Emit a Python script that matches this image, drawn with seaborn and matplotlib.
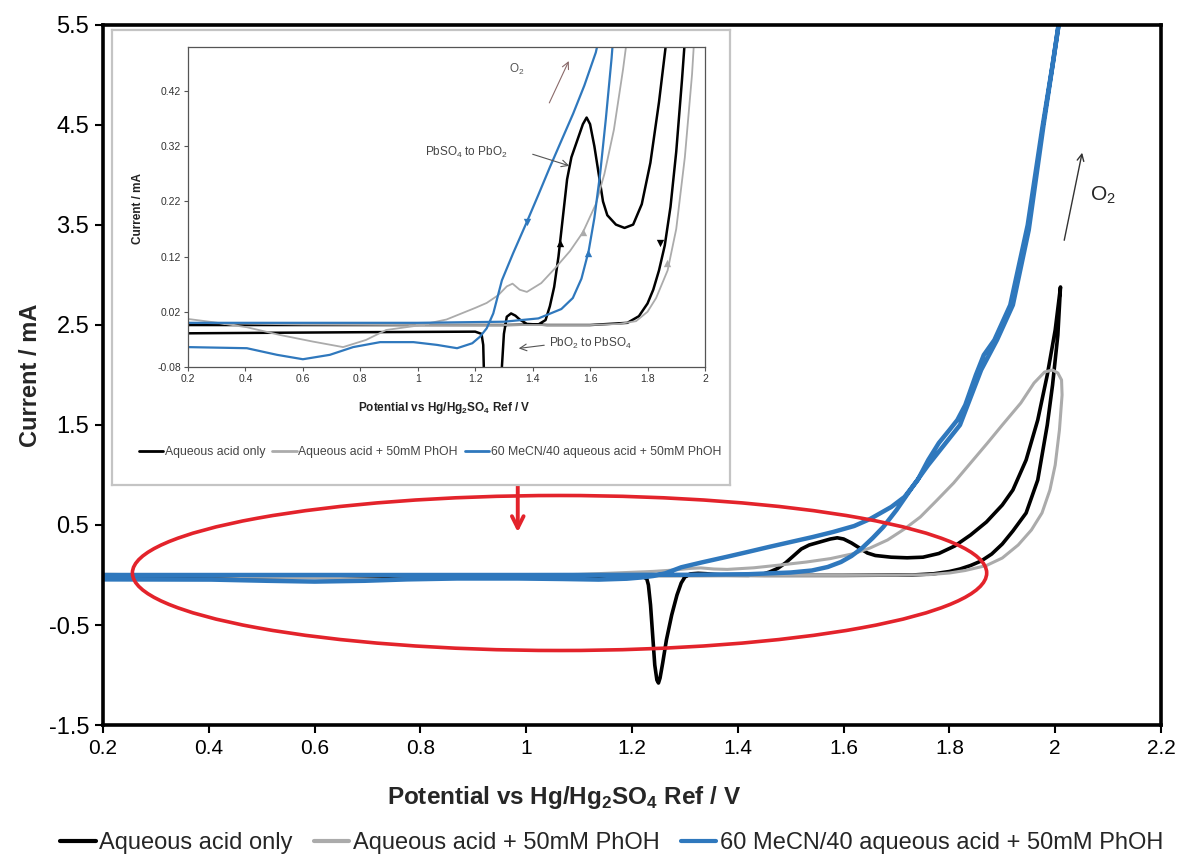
import pandas as pd
import seaborn as sns
import matplotlib.pyplot as plt
from matplotlib.patches import Ellipse
from matplotlib.lines import Line2D

# ---- values: potential (V) and current (mA) ----
# aqueous acid only
acid_fwd_v = [0.2, 0.6, 1.0, 1.3, 1.42, 1.445, 1.46, 1.475, 1.49, 1.505, 1.52, 1.535, 1.555,
              1.575, 1.588, 1.60, 1.615, 1.63, 1.645, 1.66, 1.69, 1.72, 1.75, 1.78, 1.81, 1.84,
              1.87, 1.90, 1.92, 1.945, 1.967, 1.985, 2.0, 2.01]
acid_fwd_i = [-0.004, -0.004, -0.004, -0.004, -0.003, 0.005, 0.03, 0.065, 0.12, 0.19, 0.26, 0.30,
              0.33, 0.36, 0.372, 0.36, 0.32, 0.27, 0.22, 0.195, 0.178, 0.172, 0.178, 0.215, 0.29,
              0.40, 0.53, 0.70, 0.85, 1.15, 1.55, 2.0, 2.45, 2.88]
acid_rev_v = [2.01, 2.005, 1.995, 1.985, 1.967, 1.945, 1.92, 1.90, 1.88, 1.86, 1.84, 1.82, 1.80,
              1.77, 1.73, 1.6, 1.45, 1.38, 1.355, 1.34, 1.325, 1.31, 1.30, 1.293, 1.285, 1.275,
              1.265, 1.258, 1.253, 1.25, 1.247, 1.243, 1.239, 1.235, 1.231, 1.228, 1.222, 1.2,
              0.8, 0.2]
acid_rev_i = [2.88, 2.4, 1.9, 1.5, 0.95, 0.62, 0.44, 0.31, 0.21, 0.14, 0.095, 0.06, 0.035,
              0.012, 0.0, -0.004, -0.004, -0.002, 0.006, 0.013, 0.017, 0.011, -0.02, -0.08, -0.2,
              -0.4, -0.65, -0.88, -1.03, -1.08, -1.05, -0.9, -0.6, -0.3, -0.1, -0.04, -0.02,
              -0.016, -0.017, -0.019]

# aqueous acid + 50mM PhOH
phoh_fwd_v = [0.2, 0.6, 1.0, 1.4, 1.6, 1.70, 1.76, 1.80, 1.83, 1.87, 1.90, 1.93, 1.955, 1.975,
              1.99, 2.0, 2.008, 2.013, 2.012, 2.005]
phoh_fwd_i = [0.0, -0.003, -0.004, -0.004, -0.004, -0.002, 0.003, 0.02, 0.045, 0.095, 0.17,
              0.30, 0.45, 0.62, 0.85, 1.1, 1.45, 1.8, 1.95, 2.02]
phoh_rev_v = [1.995, 1.98, 1.96, 1.935, 1.90, 1.872, 1.84, 1.808, 1.775, 1.745, 1.715, 1.683,
              1.65, 1.62, 1.575, 1.53, 1.48, 1.43, 1.38, 1.355, 1.33, 1.31, 1.28, 1.24, 1.2,
              1.1, 1.0, 0.89, 0.82, 0.74, 0.635, 0.52, 0.405, 0.29, 0.2]
phoh_rev_i = [2.05, 2.03, 1.92, 1.72, 1.5, 1.32, 1.12, 0.92, 0.74, 0.58, 0.46, 0.35, 0.27,
              0.215, 0.164, 0.13, 0.10, 0.072, 0.056, 0.06, 0.071, 0.066, 0.05, 0.036, 0.027,
              0.006, -0.005, -0.013, -0.031, -0.044, -0.034, -0.022, -0.008, 0.001, 0.007]

# 60 MeCN/40 aqueous acid + 50mM PhOH
mecn_fwd_v = [0.2, 0.6, 1.0, 1.3, 1.42, 1.5, 1.54, 1.57, 1.595, 1.615, 1.635, 1.655, 1.675,
              1.70, 1.73, 1.76, 1.79, 1.82, 1.86, 1.89, 1.92, 1.95, 1.978, 1.998, 2.012]
mecn_fwd_i = [0.0, 0.0, 0.0, 0.002, 0.008, 0.025, 0.045, 0.08, 0.13, 0.19, 0.27, 0.37, 0.48,
              0.65, 0.88, 1.10, 1.30, 1.50, 2.05, 2.35, 2.7, 3.45, 4.5, 5.2, 5.7]
mecn_rev_v = [2.012, 1.995, 1.975, 1.948, 1.915, 1.885, 1.865, 1.85, 1.83, 1.815, 1.80, 1.78,
              1.76, 1.74, 1.715, 1.69, 1.65, 1.62, 1.58, 1.541, 1.50, 1.46, 1.42, 1.38, 1.332,
              1.293, 1.263, 1.24, 1.217, 1.19, 1.137, 1.067, 0.985, 0.869, 0.775, 0.694, 0.6,
              0.51, 0.405, 0.2]
mecn_rev_i = [5.7, 5.1, 4.45, 3.5, 2.7, 2.35, 2.2, 2.0, 1.7, 1.55, 1.45, 1.32, 1.15, 0.95,
              0.78, 0.68, 0.56, 0.49, 0.43, 0.379, 0.33, 0.282, 0.232, 0.183, 0.126, 0.077,
              0.017, -0.01, -0.025, -0.037, -0.046, -0.04, -0.035, -0.035, -0.044, -0.058,
              -0.066, -0.058, -0.046, -0.044]

series = ["Aqueous acid only", "Aqueous acid + 50mM PhOH",
          "60 MeCN/40 aqueous acid + 50mM PhOH"]
colours = ["#000000", "#ababab", "#2f78bd"]

# direction marks on the inset curves
mark_v = [1.495, 1.843, 1.575, 1.868, 1.38, 1.593]
mark_i = [0.144, 0.144, 0.164, 0.108, 0.183, 0.126]
mark_series = [0, 0, 1, 1, 2, 2]
mark_shape = ["^", "v", "^", "^", "v", "^"]

frames = []
for name, fv, fi, rv, ri in [(series[0], acid_fwd_v, acid_fwd_i, acid_rev_v, acid_rev_i),
                             (series[1], phoh_fwd_v, phoh_fwd_i, phoh_rev_v, phoh_rev_i),
                             (series[2], mecn_fwd_v, mecn_fwd_i, mecn_rev_v, mecn_rev_i)]:
    frames.append(pd.DataFrame({"potential": fv + rv, "current": fi + ri, "series": name}))
df = pd.concat(frames, ignore_index=True)

sns.set_theme(style="ticks")
plt.rcParams['font.family'] = ['Liberation Sans', 'DejaVu Sans']
plt.rcParams['mathtext.fontset'] = 'custom'
plt.rcParams['mathtext.rm'] = 'Liberation Sans'
plt.rcParams['mathtext.bf'] = 'Liberation Sans:bold'

fig = plt.figure(figsize=(11.83, 8.58), dpi=100)
ax = fig.add_axes([0.0871, 0.155, 0.8943, 0.8159])
box = fig.add_axes([0.0947, 0.4347, 0.5224, 0.5306], zorder=3)
ins = fig.add_axes([0.1589, 0.5723, 0.4370, 0.3730], zorder=4)

# ---- main plot ----
main_lw = [2.6, 2.2, 3.2]
for name, c, lw in zip(series, colours, main_lw):
    sns.lineplot(data=df[df.series == name], x="potential", y="current", sort=False,
                 estimator=None, color=c, lw=lw, ax=ax, legend=False)

ax.set_xlim(0.2, 2.2)
ax.set_ylim(-1.5, 5.5)
xt = [0.2, 0.4, 0.6, 0.8, 1.0, 1.2, 1.4, 1.6, 1.8, 2.0, 2.2]
ax.set_xticks(xt)
ax.set_xticklabels([f"{v:g}" for v in xt], fontsize=15)
yt = [-1.5, -0.5, 0.5, 1.5, 2.5, 3.5, 4.5, 5.5]
ax.set_yticks(yt)
ax.set_yticklabels([f"{v:.1f}" for v in yt], fontsize=17)
ax.tick_params(direction="out", length=6, width=1.5, colors="black", pad=4)
for s in ax.spines.values():
    s.set_visible(True)
    s.set_linewidth(2.6)
    s.set_color("black")
ax.set_xlabel("")
ax.set_ylabel("")

fig.text(0.477, 0.071, r"Potential vs Hg/Hg$_\mathbf{2}$SO$_\mathbf{4}$ Ref / V",
         fontsize=17.5, fontweight="bold", ha="center", va="center")
fig.text(0.026, 0.563, "Current / mA", fontsize=17, fontweight="bold",
         rotation=90, ha="center", va="center")

ax.add_patch(Ellipse((1.063, 0.02), 1.615, 1.55, fill=False, edgecolor="#e3232b", lw=2.6,
                     zorder=5))
ax.annotate("", xy=(0.984, 0.40), xytext=(0.984, 0.92),
            arrowprops=dict(arrowstyle="->,head_length=0.7,head_width=0.35",
                            color="#e3232b", lw=2.8), zorder=6)
ax.annotate("", xy=(2.052, 4.25), xytext=(2.016, 3.32),
            arrowprops=dict(arrowstyle="->", color="#333333", lw=1.0))
ax.text(2.09, 3.8, r"O$_2$", fontsize=15, ha="center", va="center")

handles = [Line2D([], [], color=c, lw=3) for c in colours]
fig.legend(handles, series, loc="center", bbox_to_anchor=(0.517, 0.0175), ncol=3,
           fontsize=17, frameon=False, handlelength=1.5, handletextpad=0.15,
           columnspacing=0.9)

# ---- inset ----
box.set_xticks([])
box.set_yticks([])
box.set_facecolor("white")
for s in box.spines.values():
    s.set_visible(True)
    s.set_color("#c4c4c4")
    s.set_linewidth(1.6)

ins_lw = [1.8, 1.3, 1.6]
for name, c, lw in zip(series, colours, ins_lw):
    sns.lineplot(data=df[df.series == name], x="potential", y="current", sort=False,
                 estimator=None, color=c, lw=lw, ax=ins, legend=False)
for v, i, k, m in zip(mark_v, mark_i, mark_series, mark_shape):
    ins.scatter([v], [i], marker=m, s=28, color=colours[k], zorder=5, linewidths=0)

ins.set_xlim(0.2, 2.0)
ins.set_ylim(-0.08, 0.5)
ixt = [0.2, 0.4, 0.6, 0.8, 1.0, 1.2, 1.4, 1.6, 1.8, 2.0]
ins.set_xticks(ixt)
ins.set_xticklabels([f"{v:g}" for v in ixt], fontsize=7.5, color="#333333")
iyt = [-0.08, 0.02, 0.12, 0.22, 0.32, 0.42]
ins.set_yticks(iyt)
ins.set_yticklabels([f"{v:.2f}" for v in iyt], fontsize=7.5, color="#333333")
ins.tick_params(direction="out", length=3, width=0.8, colors="#555555", pad=2)
ins.tick_params(labelcolor="#333333")
for s in ins.spines.values():
    s.set_visible(True)
    s.set_color("#555555")
    s.set_linewidth(0.9)
ins.set_xlabel("")
ins.set_ylabel("")
fig.text(0.376, 0.5245, r"Potential vs Hg/Hg$_\mathbf{2}$SO$_\mathbf{4}$ Ref / V",
         fontsize=8.5, fontweight="bold", ha="center", va="center", color="#222222", zorder=6)
fig.text(0.117, 0.757, "Current / mA", fontsize=8.5, fontweight="bold", rotation=90,
         ha="center", va="center", color="#222222", zorder=6)

ins.text(1.345, 0.459, r"O$_2$", fontsize=8.5, color="#555555", ha="center", va="center")
ins.annotate("", xy=(1.53, 0.479), xytext=(1.454, 0.394),
             arrowprops=dict(arrowstyle="->", color="#8a6a6a", lw=0.8))
ins.text(1.17, 0.309, r"PbSO$_4$ to PbO$_2$", fontsize=8.5, color="#444444",
         ha="center", va="center")
ins.annotate("", xy=(1.537, 0.283), xytext=(1.391, 0.307),
             arrowprops=dict(arrowstyle="->", color="#555555", lw=0.8))
ins.text(1.60, -0.038, r"PbO$_2$ to PbSO$_4$", fontsize=8.5, color="#444444",
         ha="center", va="center")
ins.annotate("", xy=(1.342, -0.047), xytext=(1.45, -0.040),
             arrowprops=dict(arrowstyle="->", color="#555555", lw=0.8))

ins_handles = [Line2D([], [], color=c, lw=2) for c in colours]
box.legend(ins_handles, series, loc="center", bbox_to_anchor=(0.3635, 0.473),
           bbox_transform=fig.transFigure, ncol=3, fontsize=8.8, frameon=False,
           handlelength=2.0, handletextpad=0.1, columnspacing=0.6, labelcolor="#444444")

fig.savefig("out.png", dpi=100)
